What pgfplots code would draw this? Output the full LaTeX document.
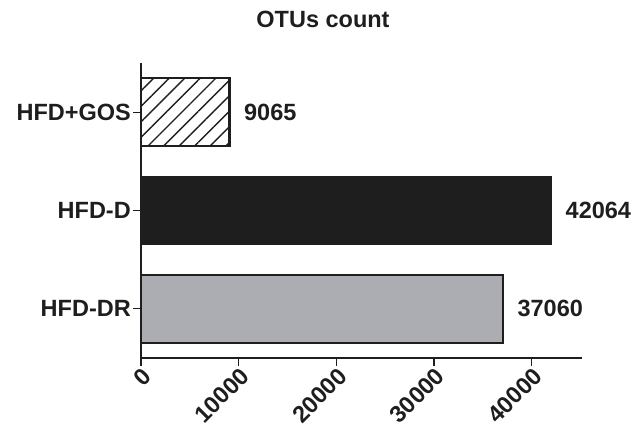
\documentclass[border=0pt]{standalone}
\usepackage{pgfplots}
\pgfplotsset{compat=1.18}
\usetikzlibrary{patterns.meta}
\usepackage{fontspec}
\setmainfont{Liberation Sans}
\definecolor{bargray}{RGB}{171,173,178}
\definecolor{ink}{RGB}{30,30,30}
\newcommand{\lbl}{\fontsize{23.5}{27}\selectfont\bfseries}

\begin{document}
\begin{tikzpicture}
\useasboundingbox (-141pt,-76pt) rectangle (494pt,358pt);
\begin{axis}[
    at={(0,0)}, anchor=south west,
    scale only axis, width=441pt, height=295pt,
    xbar, bar width=0.69,
    xmin=0, xmax=45150, ymin=-0.5, ymax=2.5,
    axis x line=bottom, axis y line=left,
    axis line style={-, line width=1.3pt, ink},
    tick style={line width=1.3pt, ink},
    tick align=outside, major tick length=8pt,
    xtick={0,10000,20000,30000,40000},
    scaled x ticks=false,
    /pgf/number format/1000 sep={},
    /pgf/number format/assume math mode=true,
    ytick={0,1,2}, yticklabels={HFD-DR,HFD-D,HFD+GOS},
    ticklabel style={font=\lbl, text=ink},
    yticklabel style={inner sep=2pt},
    xticklabel style={rotate=45, anchor=east, inner sep=1pt, yshift=-9pt, xshift=1pt},
    point meta=explicit symbolic,
    nodes near coords,
    nodes near coords style={font=\lbl, text=ink, anchor=west, xshift=10pt},
    clip=false,
]
    % HFD-DR
    \addplot[draw=ink, line width=2.5pt, fill=bargray, bar shift=0pt]
        coordinates {(37060,0) [37060]};
    % HFD-D
    \addplot[draw=ink, line width=1pt, fill=ink, bar shift=0pt]
        coordinates {(42064,1) [42064]};
    % HFD+GOS
    \addplot[draw=ink, line width=2.5pt, bar shift=0pt,
        pattern={Lines[angle=45, distance=11pt, line width=1.4pt]}, pattern color=ink]
        coordinates {(9065,2) [9065]};
\end{axis}
\node[font=\lbl, text=ink] at (182pt,339pt) {OTUs count};
\end{tikzpicture}
\end{document}
